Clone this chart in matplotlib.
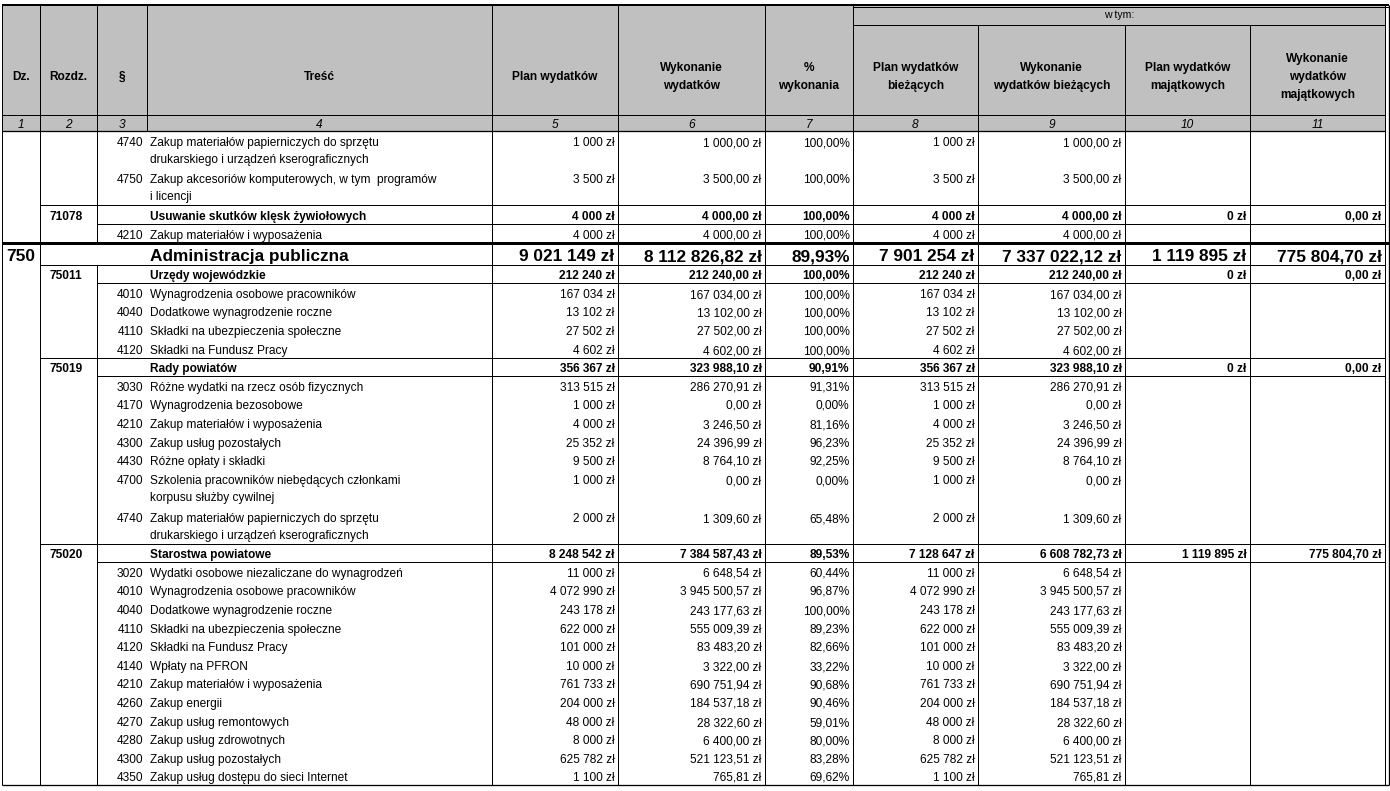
import matplotlib
matplotlib.use("Agg")
import matplotlib.pyplot as plt
from matplotlib.patches import Rectangle

plt.rcParams['font.family'] = ['Liberation Sans', 'DejaVu Sans']

# ---------------- data ----------------
headers = ["Dz.", "Rozdz.", "§", "Treść", "Plan wydatków", "Wykonanie\nwydatków",
           "%\nwykonania", "Plan wydatków\nbieżących", "Wykonanie\nwydatków bieżących",
           "Plan wydatków\nmajątkowych", "Wykonanie\nwydatków\nmajątkowych"]
col_numbers = ["1", "2", "3", "4", "5", "6", "7", "8", "9", "10", "11"]
group_label = "w tym:"

# row kind: 'p' = paragraf, 'r' = rozdział, 'd' = dział
kind = ['p', 'p', 'r', 'p', 'd', 'r', 'p', 'p', 'p', 'p', 'r', 'p', 'p', 'p', 'p', 'p',
        'p', 'p', 'r', 'p', 'p', 'p', 'p', 'p', 'p', 'p', 'p', 'p', 'p', 'p', 'p']
codes = ['4740', '4750', '71078', '4210', '750', '75011', '4010', '4040', '4110', '4120',
         '75019', '3030', '4170', '4210', '4300', '4430', '4700', '4740', '75020', '3020',
         '4010', '4040', '4110', '4120', '4140', '4210', '4260', '4270', '4280', '4300', '4350']
tresc = [
    "Zakup materiałów papierniczych do sprzętu\ndrukarskiego i urządzeń kserograficznych",
    "Zakup akcesoriów komputerowych, w tym  programów\ni licencji",
    "Usuwanie skutków klęsk żywiołowych",
    "Zakup materiałów i wyposażenia",
    "Administracja publiczna",
    "Urzędy wojewódzkie",
    "Wynagrodzenia osobowe pracowników",
    "Dodatkowe wynagrodzenie roczne",
    "Składki na ubezpieczenia społeczne",
    "Składki na Fundusz Pracy",
    "Rady powiatów",
    "Różne wydatki na rzecz osób fizycznych",
    "Wynagrodzenia bezosobowe",
    "Zakup materiałów i wyposażenia",
    "Zakup usług pozostałych",
    "Różne opłaty i składki",
    "Szkolenia pracowników niebędących członkami\nkorpusu służby cywilnej",
    "Zakup materiałów papierniczych do sprzętu\ndrukarskiego i urządzeń kserograficznych",
    "Starostwa powiatowe",
    "Wydatki osobowe niezaliczane do wynagrodzeń",
    "Wynagrodzenia osobowe pracowników",
    "Dodatkowe wynagrodzenie roczne",
    "Składki na ubezpieczenia społeczne",
    "Składki na Fundusz Pracy",
    "Wpłaty na PFRON",
    "Zakup materiałów i wyposażenia",
    "Zakup energii",
    "Zakup usług remontowych",
    "Zakup usług zdrowotnych",
    "Zakup usług pozostałych",
    "Zakup usług dostępu do sieci Internet",
]
plan = [1000, 3500, 4000, 4000, 9021149, 212240, 167034, 13102, 27502, 4602, 356367,
        313515, 1000, 4000, 25352, 9500, 1000, 2000, 8248542, 11000, 4072990, 243178,
        622000, 101000, 10000, 761733, 204000, 48000, 8000, 625782, 1100]
wyk = [1000.00, 3500.00, 4000.00, 4000.00, 8112826.82, 212240.00, 167034.00, 13102.00,
       27502.00, 4602.00, 323988.10, 286270.91, 0.00, 3246.50, 24396.99, 8764.10, 0.00,
       1309.60, 7384587.43, 6648.54, 3945500.57, 243177.63, 555009.39, 83483.20, 3322.00,
       690751.94, 184537.18, 28322.60, 6400.00, 521123.51, 765.81]
pct = [100.00, 100.00, 100.00, 100.00, 89.93, 100.00, 100.00, 100.00, 100.00, 100.00,
       90.91, 91.31, 0.00, 81.16, 96.23, 92.25, 0.00, 65.48, 89.53, 60.44, 96.87, 100.00,
       89.23, 82.66, 33.22, 90.68, 90.46, 59.01, 80.00, 83.28, 69.62]
plan_b = [1000, 3500, 4000, 4000, 7901254, 212240, 167034, 13102, 27502, 4602, 356367,
          313515, 1000, 4000, 25352, 9500, 1000, 2000, 7128647, 11000, 4072990, 243178,
          622000, 101000, 10000, 761733, 204000, 48000, 8000, 625782, 1100]
wyk_b = [1000.00, 3500.00, 4000.00, 4000.00, 7337022.12, 212240.00, 167034.00, 13102.00,
         27502.00, 4602.00, 323988.10, 286270.91, 0.00, 3246.50, 24396.99, 8764.10, 0.00,
         1309.60, 6608782.73, 6648.54, 3945500.57, 243177.63, 555009.39, 83483.20, 3322.00,
         690751.94, 184537.18, 28322.60, 6400.00, 521123.51, 765.81]
plan_m = [None, None, 0, None, 1119895, 0, None, None, None, None, 0, None, None, None,
          None, None, None, None, 1119895, None, None, None, None, None, None, None, None,
          None, None, None, None]
wyk_m = [None, None, 0.00, None, 775804.70, 0.00, None, None, None, None, 0.00, None, None,
         None, None, None, None, None, 775804.70, None, None, None, None, None, None, None,
         None, None, None, None, None]


# ---------------- formatting ----------------
def f_int(v):
    return None if v is None else f"{v:,}".replace(",", " ") + " zł"


def f_dec(v):
    if v is None:
        return None
    return f"{v:,.2f}".replace(",", " ").replace(".", ",") + " zł"


def f_pct(v):
    return None if v is None else f"{v:.2f}".replace(".", ",") + "%"


# ---------------- layout (pixels) ----------------
W, H = 1390, 791
fig = plt.figure(figsize=(W / 100, H / 100), dpi=100)
ax = fig.add_axes([0, 0, 1, 1])
ax.set_xlim(0, W)
ax.set_ylim(H, 0)
ax.axis('off')

xb = [1.5, 40, 97, 147, 492, 618, 765, 853, 978, 1125, 1250, 1385]
x_outer = 1388.5
y_top, y_grp, y_num, y_data = 4.5, 25, 115, 131
row_h = 18.6
dz_h = 22
FS = 8.6
FS_BIG = 12.4
px = 0.72  # points per pixel


def hline(y, x0, x1, w=1.0):
    ax.plot([x0, x1], [y, y], color='black', lw=w * px, solid_capstyle='butt')


def vline(x, y0, y1, w=1.0):
    ax.plot([x, x], [y0, y1], color='black', lw=w * px, solid_capstyle='butt')


def put(x, y, s, ha, fs, fw='normal', style='normal'):
    # baselines snapped to whole pixels so every string in a row rasterises alike
    y = float(round(y))
    ax.text(x, y, s, ha=ha, va='baseline', fontsize=fs, fontweight=fw, fontstyle=style)


# header background
ax.add_patch(Rectangle((xb[0], y_top), xb[-1] - xb[0], y_data - y_top,
                       facecolor='#c0c0c0', edgecolor='none'))

# header texts
hdr_center = 76
for i, h in enumerate(headers):
    cx = (xb[i] + xb[i + 1]) / 2
    lines = h.split("\n")
    n = len(lines)
    for k, ln in enumerate(lines):
        cy = hdr_center + (k - (n - 1) / 2) * 18
        put(cx, cy + 4.3, ln, 'center', FS, 'bold')
    put(cx, (y_num + y_data) / 2 + 4.6, col_numbers[i], 'center', FS, style='italic')
put((xb[7] + xb[-1]) / 2, 18.5, group_label, 'center', 7.6)

# rows
tops = []
y = y_data
for k, t in zip(kind, tresc):
    tops.append(y)
    if k == 'd':
        y += dz_h
    else:
        y += row_h * (t.count("\n") + 1)
y_bottom = y

value_cols = [(plan, f_int), (wyk, f_dec), (pct, f_pct), (plan_b, f_int),
              (wyk_b, f_dec), (plan_m, f_int), (wyk_m, f_dec)]

for i, (k, code, t) in enumerate(zip(kind, codes, tresc)):
    top = tops[i]
    if k == 'd':
        base = top + 18.3
        fs, fw = FS_BIG, 'bold'
        put(6, base, code, 'left', FS_BIG, 'bold')
    else:
        nl = t.count("\n") + 1
        base = top + (15.2 if nl > 1 else 14.6)
        fs = FS
        fw = 'bold' if k == 'r' else 'normal'
        if k == 'r':
            put(50, base, code, 'left', FS, 'bold')
        else:
            put(143, base, code, 'right', FS)
    for j, ln in enumerate(t.split("\n")):
        put(150, base + j * 17, ln, 'left', fs, fw)
    for c, (vals, fmt) in enumerate(value_cols):
        s = fmt(vals[i])
        if s is None:
            continue
        put(xb[5 + c] - 3.5, base, s, 'right', fs, fw)

# horizontal lines
hline(y_top, xb[0], x_outer, 2)
hline(6.5, xb[7], x_outer, 1)
hline(y_grp, xb[7], xb[-1])
hline(y_num, xb[0], xb[-1])
hline(y_data, xb[0], xb[-1], 1.3)
for i, k in enumerate(kind):
    top = tops[i]
    bottom = tops[i + 1] if i + 1 < len(tops) else y_bottom
    if k == 'r':
        hline(top, xb[1], xb[-1])
        hline(bottom, xb[2], xb[-1])
    elif k == 'd':
        hline(top, xb[0], x_outer, 3)
        hline(bottom, xb[1], xb[-1])
hline(y_bottom, xb[0], x_outer, 1.3)

# vertical lines
dz_idx = kind.index('d')
dz_top, dz_bot = tops[dz_idx], tops[dz_idx + 1]
for idx, x in enumerate(xb):
    if idx in (8, 9, 10):
        vline(x, y_grp, y_bottom)
    elif idx == 2:
        vline(x, y_top, dz_top)
        vline(x, dz_bot, y_bottom)
    elif idx == 3:
        vline(x, y_top, y_data)
    else:
        vline(x, y_top, y_bottom)
vline(x_outer, y_top, y_bottom, 1.3)

fig.savefig("out.png", dpi=100, facecolor='white')
